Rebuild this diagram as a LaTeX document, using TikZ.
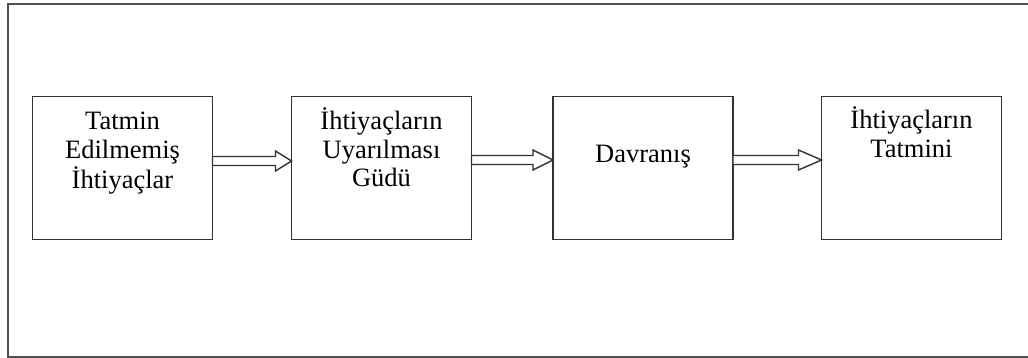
\documentclass[tikz,border=0pt]{standalone}
\usepackage{fontspec}
\setmainfont{Liberation Serif}
\usetikzlibrary{calc}
\definecolor{linegray}{HTML}{333333}
\definecolor{framegray}{HTML}{505050}
\tikzset{
  box/.style={draw=linegray, line width=1.8pt, minimum width=180pt, minimum height=143pt, inner sep=0pt, outer sep=0pt},
  boxtext/.style={anchor=base, inner sep=0pt, font=\fontsize{26.5}{28.5}\selectfont, text=black},
  arrowline/.style={draw=linegray, line width=1.4pt, fill=white, line join=miter},
  blockarrow/.style={to path={let \p1=(\tikztostart), \p2=(\tikztotarget) in
    (\x1,\y1+4.5pt) -- (\x2-#1,\y1+4.5pt) -- (\x2-#1,\y1+10pt) -- (\x2,\y1)
    -- (\x2-#1,\y1-10pt) -- (\x2-#1,\y1-4.5pt) -- (\x1,\y1-4.5pt) -- cycle}},
  blockarrow/.default=20pt
}
\newcommand{\lines}[1]{\begin{tabular}[t]{@{}c@{}}#1\end{tabular}}
\begin{document}
\begin{tikzpicture}[x=1pt,y=-1pt]
\useasboundingbox (0,0) rectangle (1028,358);
% outer frame (right side not visible)
\coordinate (ftr) at (1028,4.5);
\coordinate (ftl) at (7.5,4.5);
\coordinate (fbl) at (7.5,356.5);
\coordinate (fbr) at (1028,356.5);
\draw[framegray, line width=2pt] (ftr) -- (ftl) -- (fbl) -- (fbr);
% boxes
\node[box] (b1) at (122.5,168) {};
\node[box] (b2) at (381.5,168) {};
\node[box] (b3) at (643,168) {};
\node[box] (b4) at (911.5,168) {};
% texts
\node[boxtext] (t1) at (122.5,130) {\lines{Tatmin\\Edilmemiş\\İhtiyaçlar}};
\node[boxtext] (t2) at (381.5,130) {\lines{İhtiyaçların\\Uyarılması\\Güdü}};
\node[boxtext] (t3) at (643,163) {Davranış};
\node[boxtext] (t4) at (911.5,129) {\lines{İhtiyaçların\\Tatmini}};
% arrows
\draw[arrowline] ([yshift=7pt]b1.east) to[blockarrow=16pt] ([yshift=7pt]b2.west);
\draw[arrowline] ([yshift=8pt]b2.east) to[blockarrow=20pt] ([yshift=8pt]b3.west);
\draw[arrowline] ([yshift=8pt]b3.east) to[blockarrow=23pt] ([yshift=8pt]b4.west);
\end{tikzpicture}
\end{document}
